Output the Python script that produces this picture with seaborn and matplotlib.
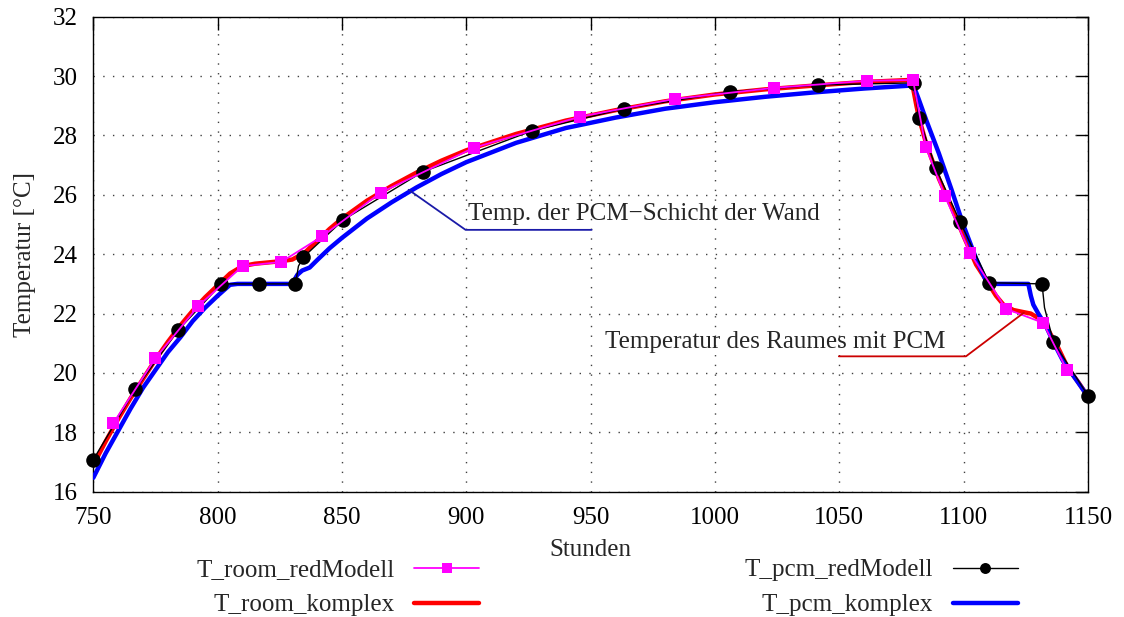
import matplotlib
matplotlib.use('Agg')
import matplotlib.pyplot as plt
import pandas as pd
import seaborn as sns

# T_room_komplex (rote Linie)
room_k_h = [750, 755, 760, 765, 770, 775, 780, 785, 790, 795, 800, 805, 810, 815, 820, 825, 830,
            835, 840, 845, 850, 860, 870, 880, 890, 900, 920, 940, 960, 980, 1000, 1020, 1040,
            1060, 1079, 1081, 1082, 1085, 1090, 1095, 1100, 1105, 1110, 1113, 1116, 1120, 1124,
            1127, 1131, 1134, 1138, 1142, 1146, 1150]
room_k_t = [16.9, 17.7, 18.45, 19.15, 19.8, 20.45, 21.05, 21.6, 22.1, 22.55, 22.95, 23.35, 23.6,
            23.68, 23.72, 23.76, 23.82, 24.05, 24.45, 24.85, 25.2, 25.8, 26.3, 26.75, 27.15, 27.5,
            28.05, 28.5, 28.85, 29.15, 29.38, 29.55, 29.68, 29.8, 29.87, 29.0, 28.6, 27.7, 26.55,
            25.6, 24.6, 23.65, 23.0, 22.6, 22.3, 22.12, 22.05, 22.0, 21.8, 21.45, 20.85, 20.15,
            19.7, 19.2]

# T_pcm_komplex (blaue Linie)
pcm_k_h = [750, 755, 760, 765, 770, 775, 780, 785, 790, 795, 800, 805, 808, 830, 832, 834, 837,
           840, 845, 850, 860, 870, 880, 890, 900, 920, 940, 960, 980, 1000, 1020, 1040, 1060,
           1079, 1080, 1082, 1085, 1090, 1095, 1100, 1105, 1109, 1110, 1126, 1127, 1128, 1130,
           1133, 1136, 1140, 1145, 1150]
pcm_k_t = [16.47, 17.3, 18.05, 18.8, 19.5, 20.1, 20.7, 21.2, 21.75, 22.2, 22.6, 22.97, 23.0, 23.0,
           23.3, 23.45, 23.55, 23.8, 24.2, 24.55, 25.2, 25.75, 26.25, 26.7, 27.1, 27.75, 28.25,
           28.6, 28.9, 29.12, 29.3, 29.45, 29.58, 29.68, 29.65, 29.2, 28.5, 27.4, 26.2, 24.95,
           23.85, 23.1, 23.0, 23.0, 22.6, 22.3, 22.0, 21.6, 21.05, 20.4, 19.8, 19.2]

# T_room_redModell (magenta, Quadrate)
room_r_h = [758, 775, 792.3, 810, 825.6, 842, 865.5, 902.9, 945.6, 983.8, 1023.6, 1061, 1079.6,
            1084.8, 1092.4, 1102.5, 1117, 1131.9, 1141.5]
room_r_t = [18.3, 20.5, 22.26, 23.6, 23.74, 24.6, 26.07, 27.58, 28.63, 29.23, 29.6, 29.84, 29.87,
            27.6, 25.97, 24.05, 22.16, 21.69, 20.1]

# T_pcm_redModell (schwarz, Kreise)
pcm_r_h = [750, 766.9, 784.2, 801.5, 816.8, 831.3, 832.5, 834.5, 850.6, 882.4, 926.3, 963.3, 1006,
           1041.3, 1080, 1082, 1088.8, 1098.5, 1110.2, 1131.5, 1132.5, 1136.1, 1150]
pcm_r_t = [17.08, 19.45, 21.45, 23.0, 23.0, 23.0, 23.6, 23.9, 25.16, 26.77, 28.15, 28.9, 29.47,
           29.7, 29.77, 28.6, 26.9, 25.1, 23.04, 23.0, 22.2, 21.05, 19.23]
pcm_r_marks = [0, 1, 2, 3, 4, 5, 7, 8, 9, 10, 11, 12, 13, 14, 15, 16, 17, 18, 19, 21, 22]

sns.set_theme(style='white')
plt.rcParams['font.family'] = ['Liberation Serif', 'DejaVu Serif']
FS = 18

fig = plt.figure(figsize=(11.24, 6.17), dpi=100)
ax = fig.add_axes([0.083, 0.203, 0.885, 0.770])

df_rk = pd.DataFrame({'h': room_k_h, 't': room_k_t})
df_pk = pd.DataFrame({'h': pcm_k_h, 't': pcm_k_t})
df_rr = pd.DataFrame({'h': room_r_h, 't': room_r_t})
df_pr = pd.DataFrame({'h': pcm_r_h, 't': pcm_r_t})

sns.lineplot(data=df_rr, x='h', y='t', ax=ax, sort=False, estimator=None, color='#ff00ff',
             lw=1.3, marker='s', markersize=9, markeredgewidth=0, label='T_room_redModell',
             zorder=5, clip_on=False)
sns.lineplot(data=df_rk, x='h', y='t', ax=ax, sort=False, estimator=None, color='#ff0000',
             lw=3.2, label='T_room_komplex', zorder=3)
sns.lineplot(data=df_pr, x='h', y='t', ax=ax, sort=False, estimator=None, color='black',
             lw=1.0, marker='o', markersize=10.5, markeredgewidth=0, markevery=pcm_r_marks,
             label='T_pcm_redModell', zorder=4, clip_on=False)
sns.lineplot(data=df_pk, x='h', y='t', ax=ax, sort=False, estimator=None, color='#0000ff',
             lw=3.2, label='T_pcm_komplex', zorder=3)

# Beschriftungen mit Hinweislinien
ax.plot([876.8, 899.7, 950.4], [26.17, 24.82, 24.82], color='#1a1aa8', lw=1.3, zorder=6)
ax.text(900.6, 24.98, 'Temp. der PCM\u2212Schicht der Wand', fontsize=FS, va='bottom', ha='left')
ax.plot([1124.2, 1100.9, 1049.8], [22.03, 20.56, 20.56], color='#cc0000', lw=1.3, zorder=6)
ax.text(955.6, 20.68, 'Temperatur des Raumes mit PCM', fontsize=FS, va='bottom', ha='left')

ax.set_xlim(750, 1150)
ax.set_ylim(16, 32)
ax.set_xticks(range(750, 1151, 50))
ax.set_yticks(range(16, 33, 2))
ax.tick_params(direction='in', length=9, width=1, top=True, right=True,
               labelsize=FS, colors='black')
ax.tick_params(axis='x', pad=11)
ax.tick_params(axis='y', pad=11)
ax.grid(True, color='0.25', linestyle=(0, (1, 6)), lw=1.0)
for s in ax.spines.values():
    s.set_color('black')
    s.set_linewidth(1.0)
ax.set_xlabel('Stunden', fontsize=FS, labelpad=7)
ax.set_ylabel('Temperatur [°C]', fontsize=FS, labelpad=12)

leg = ax.legend(loc='center', bbox_to_anchor=(0.540, 0.0475), bbox_transform=fig.transFigure,
                ncol=2, frameon=False, markerfirst=False, fontsize=FS, handlelength=2.6,
                handletextpad=0.8, columnspacing=10.6, labelspacing=0.5, borderpad=0,
                markerscale=0.75)

fig.savefig('out.png', dpi=100)
